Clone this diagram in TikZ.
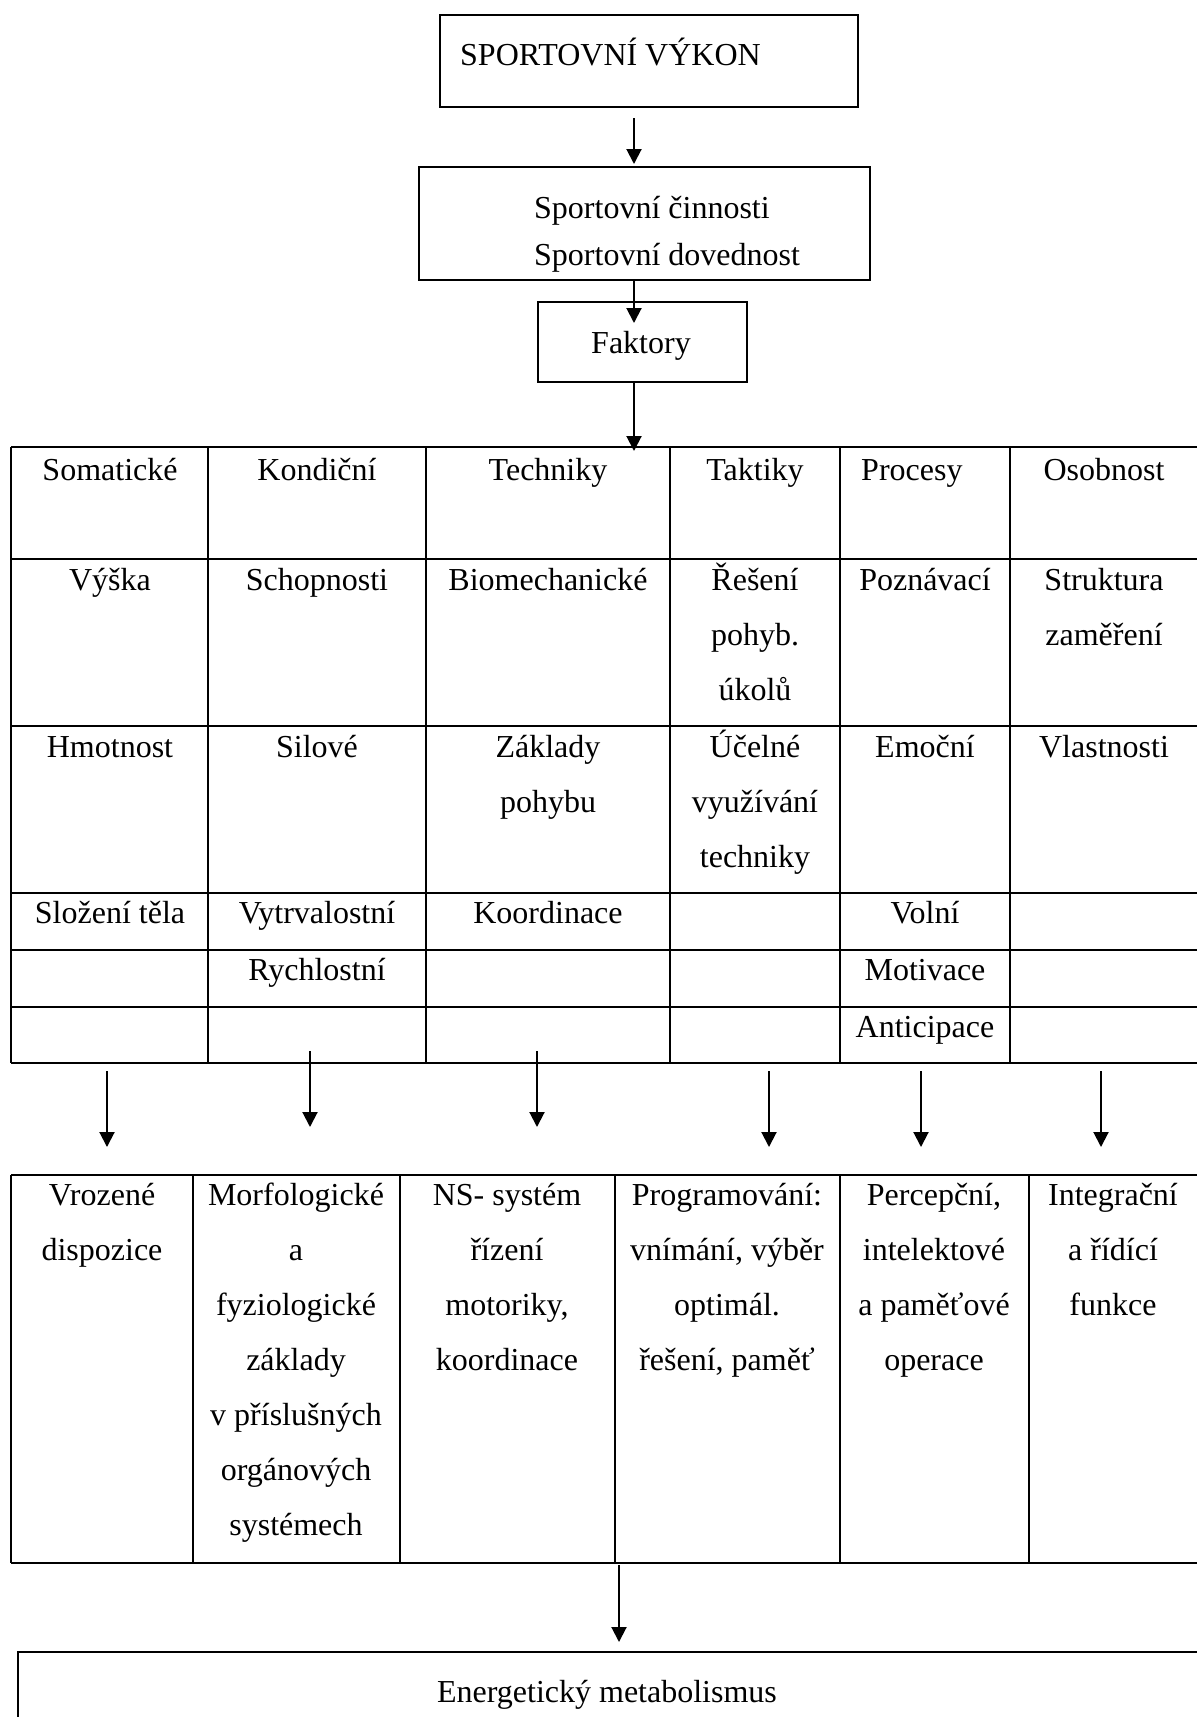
\documentclass[tikz,border=0pt]{standalone}
\usepackage{fontspec}
\setmainfont{Liberation Serif}
\usetikzlibrary{arrows.meta}
\begin{document}
\begin{tikzpicture}[x=1pt,y=-1pt,
  boxnode/.style={draw,line width=2pt,inner sep=0pt,anchor=north west},
  txt/.style={font=\fontsize{32}{32}\selectfont,inner sep=0pt,anchor=base},
  txtl/.style={font=\fontsize{32}{32}\selectfont,inner sep=0pt,anchor=base west},
  tbl/.style={line width=2pt},
  arr/.style={-{Triangle[length=15pt,width=15pt]},line width=2pt}]
\useasboundingbox (0,0) rectangle (1197,1717);
\clip (0,0) rectangle (1197,1717);
\fill[white] (0,0) rectangle (1197,1717);
% top boxes
\node[boxnode,minimum width=418pt,minimum height=92pt] (b1) at (439,14) {};
\node[txtl] (t1) at (460,65) {SPORTOVNÍ VÝKON};
\node[boxnode,minimum width=451pt,minimum height=113pt] (b2) at (418,166) {};
\node[txtl] (t2a) at (534,218) {Sportovní činnosti};
\node[txtl] (t2b) at (534,265) {Sportovní dovednost};
\node[boxnode,minimum width=209pt,minimum height=80pt] (b3) at (537,301) {};
\node[txt] (t3) at (641,353) {Faktory};
\coordinate (a1s) at (634,118); \coordinate (a1e) at (634,164);
\coordinate (a2s) at (634,279); \coordinate (a2e) at (634,323);
\coordinate (a3s) at (634,381); \coordinate (a3e) at (634,451);
\draw[arr] (a1s) -- (a1e);
\draw[arr] (a2s) -- (a2e);
\draw[arr] (a3s) -- (a3e);
% upper table
\foreach \yy in {447,559,726,893,950,1007,1063} \draw[tbl] (11,\yy) -- (1205,\yy);
\foreach \xx in {11,208,426,670,840,1010} \draw[tbl] (\xx,447) -- (\xx,1063);
\node[txt] at (110,480) {Somatické};
\node[txt] at (317,480) {Kondiční};
\node[txt] at (548,480) {Techniky};
\node[txt] at (755,480) {Taktiky};
\node[txtl] at (861,480) {Procesy};
\node[txt] at (1104,480) {Osobnost};
\node[txt] at (110,590) {Výška};
\node[txt] at (317,590) {Schopnosti};
\node[txt] at (548,590) {Biomechanické};
\node[txt] at (755,590) {Řešení};
\node[txt] at (755,645) {pohyb.};
\node[txt] at (755,700) {úkolů};
\node[txt] at (925,590) {Poznávací};
\node[txt] at (1104,590) {Struktura};
\node[txt] at (1104,645) {zaměření};
\node[txt] at (110,757) {Hmotnost};
\node[txt] at (317,757) {Silové};
\node[txt] at (548,757) {Základy};
\node[txt] at (548,812) {pohybu};
\node[txt] at (755,757) {Účelné};
\node[txt] at (755,812) {využívání};
\node[txt] at (755,867) {techniky};
\node[txt] at (925,757) {Emoční};
\node[txt] at (1104,757) {Vlastnosti};
\node[txt] at (110,923) {Složení těla};
\node[txt] at (317,923) {Vytrvalostní};
\node[txt] at (548,923) {Koordinace};
\node[txt] at (925,923) {Volní};
\node[txt] at (317,980) {Rychlostní};
\node[txt] at (925,980) {Motivace};
\node[txt] at (925,1037) {Anticipace};
% arrows between tables
\foreach \n/\xx/\ys/\ye in {1/107/1071/1147,2/310/1051/1127,3/537/1051/1127,4/769/1071/1147,5/921/1071/1147,6/1101/1071/1147}{
  \coordinate (m\n s) at (\xx,\ys); \coordinate (m\n e) at (\xx,\ye);
  \draw[arr] (m\n s) -- (m\n e);
}
% lower table
\foreach \yy in {1175,1563} \draw[tbl] (11,\yy) -- (1205,\yy);
\foreach \xx in {11,193,400,615,840,1029} \draw[tbl] (\xx,1175) -- (\xx,1563);
\node[txt] at (102,1205) {Vrozené};
\node[txt] at (102,1260) {dispozice};
\node[txt] at (296,1205) {Morfologické};
\node[txt] at (296,1260) {a};
\node[txt] at (296,1315) {fyziologické};
\node[txt] at (296,1370) {základy};
\node[txt] at (296,1425) {v příslušných};
\node[txt] at (296,1480) {orgánových};
\node[txt] at (296,1535) {systémech};
\node[txt] at (507,1205) {NS- systém};
\node[txt] at (507,1260) {řízení};
\node[txt] at (507,1315) {motoriky,};
\node[txt] at (507,1370) {koordinace};
\node[txt] at (727,1205) {Programování:};
\node[txt] at (727,1260) {vnímání, výběr};
\node[txt] at (727,1315) {optimál.};
\node[txt] at (727,1370) {řešení, paměť};
\node[txt] at (934,1205) {Percepční,};
\node[txt] at (934,1260) {intelektové};
\node[txt] at (934,1315) {a paměťové};
\node[txt] at (934,1370) {operace};
\node[txt] at (1113,1205) {Integrační};
\node[txt] at (1113,1260) {a řídící};
\node[txt] at (1113,1315) {funkce};
% bottom box
\coordinate (a9s) at (619,1565); \coordinate (a9e) at (619,1642);
\draw[arr] (a9s) -- (a9e);
\node[boxnode,minimum width=1200pt,minimum height=120pt] (b4) at (17,1651) {};
\node[txt] (t4) at (607,1702) {Energetický metabolismus};
\end{tikzpicture}
\end{document}
